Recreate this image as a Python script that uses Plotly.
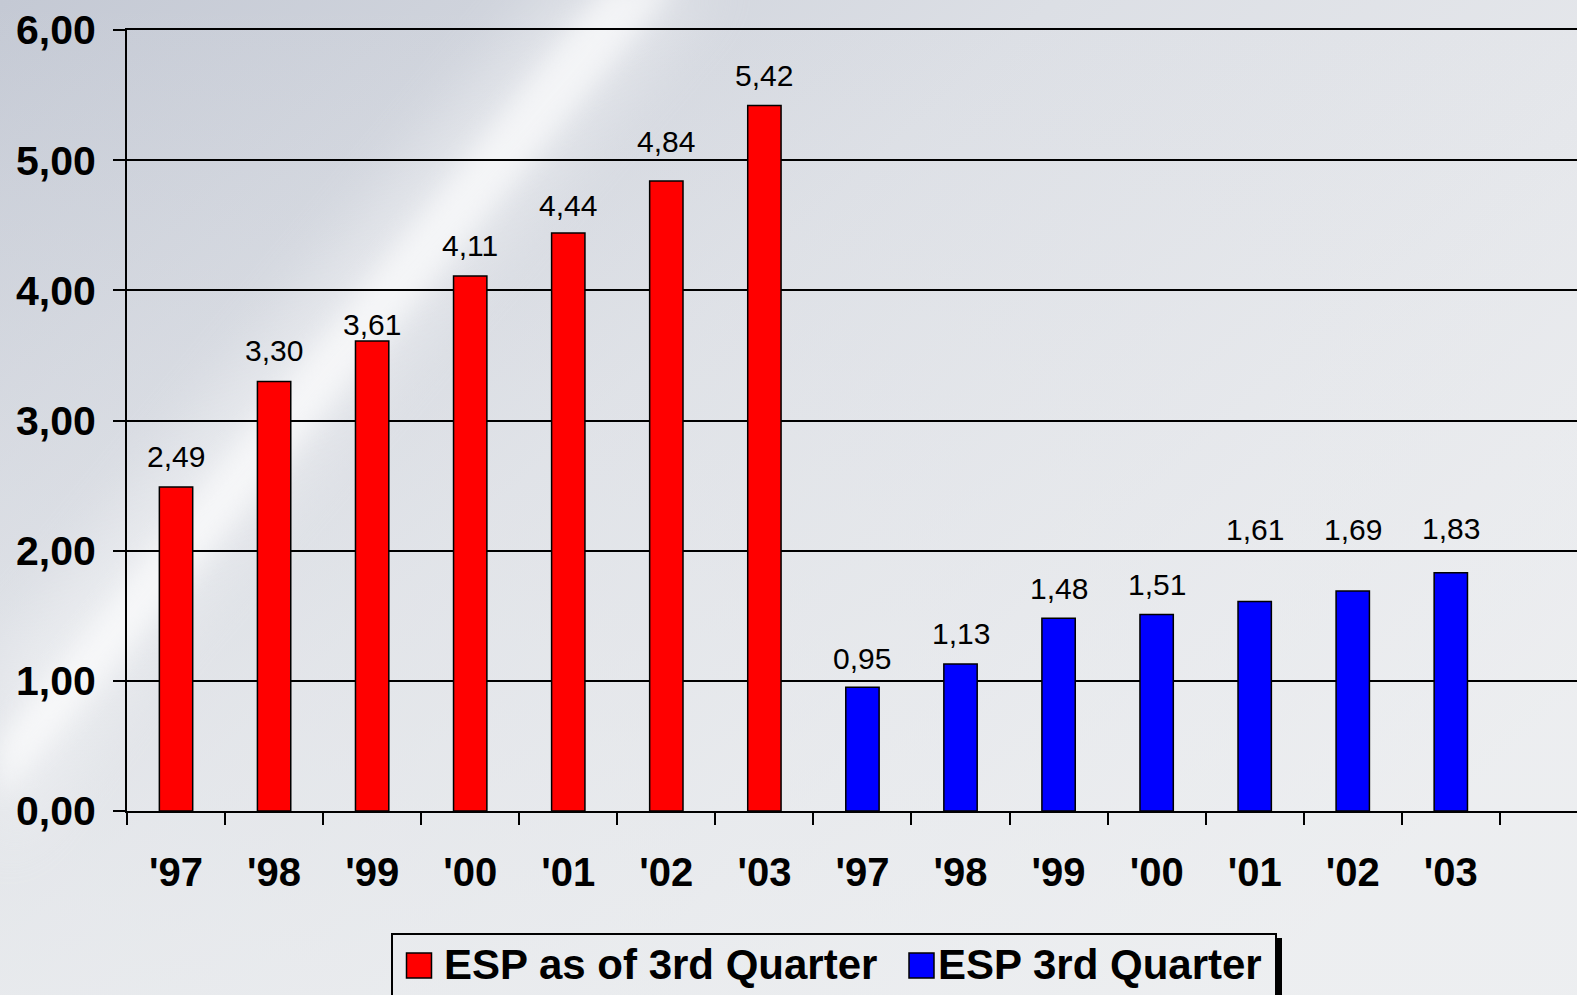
import plotly.graph_objects as go
from urllib.parse import quote

# ---- data ----
years = ["'97", "'98", "'99", "'00", "'01", "'02", "'03"]
esp_as_of_q3 = [2.49, 3.30, 3.61, 4.11, 4.44, 4.84, 5.42]
esp_q3 = [0.95, 1.13, 1.48, 1.51, 1.61, 1.69, 1.83]
series_names = ["ESP as of 3rd Quarter", "ESP 3rd Quarter"]
y_ticks = [0, 1, 2, 3, 4, 5, 6]

# label gap above bar (pixels, styling)
label_gap = [30, 31, 17, 31, 28, 39, 30, 29, 30, 30, 30, 72, 62, 44]

RED = "#ff0000"
BLUE = "#0000ff"
COLORS = [RED, BLUE]
FONT = "Arial, Liberation Sans, sans-serif"

n1 = len(years)
x_red = list(range(n1))
x_blue = list(range(n1, 2 * n1))
all_x = x_red + x_blue
all_v = esp_as_of_q3 + esp_q3

L, T, B = 127, 30, 184
W, H = 1577, 995
pw, ph = W - L, H - T - B
CAT_PX = 98.06


def px_x(p):
    return (p - L) / pw


def px_y(p):
    return (H - B - p) / ph


fig = go.Figure()
fig.add_trace(go.Bar(x=x_red, y=esp_as_of_q3, marker=dict(color=RED, line=dict(color="black", width=1.5)),
                     width=0.34, showlegend=False, name=series_names[0]))
fig.add_trace(go.Bar(x=x_blue, y=esp_q3, marker=dict(color=BLUE, line=dict(color="black", width=1.5)),
                     width=0.34, showlegend=False, name=series_names[1]))
# legend entries
legend_widths = [449, None]
for nm, c, lw in zip(series_names, COLORS, legend_widths):
    fig.add_trace(go.Scatter(x=[None], y=[None], mode="markers", name=nm, legendwidth=lw,
                             marker=dict(symbol="square", size=12, color=c, line=dict(width=0))))

for xi, v, g in zip(all_x, all_v, label_gap):
    fig.add_annotation(x=xi, y=v, text=f"{v:.2f}".replace(".", ","), showarrow=False,
                       yanchor="middle", yshift=g, font=dict(family=FONT, size=30, color="black"))

svg = (
    "<svg xmlns='http://www.w3.org/2000/svg' width='1577' height='995'>"
    "<defs><linearGradient id='g' x1='0' y1='0' x2='1' y2='0.7'>"
    "<stop offset='0' stop-color='#c4c9d4'/><stop offset='0.45' stop-color='#dcdfe5'/>"
    "<stop offset='1' stop-color='#eeeff1'/></linearGradient>"
    "<linearGradient id='h' x1='0' y1='0' x2='0' y2='1'>"
    "<stop offset='0' stop-color='#e6e8ec' stop-opacity='0'/><stop offset='1' stop-color='#eceef0' stop-opacity='0.7'/></linearGradient>"
    "<filter id='b' x='-50%' y='-50%' width='200%' height='200%'><feGaussianBlur stdDeviation='12'/></filter>"
    "<filter id='b2' x='-50%' y='-50%' width='200%' height='200%'><feGaussianBlur stdDeviation='30'/></filter></defs>"
    "<rect width='1577' height='995' fill='url(#g)'/>"
    "<rect width='1577' height='995' fill='url(#h)'/>"
    "<polygon points='560,-20 720,-20 160,640 0,860 0,660' fill='white' opacity='0.35' filter='url(#b2)'/>"
    "<polygon points='610,-20 680,-20 120,660 0,800 0,740' fill='white' opacity='0.6' filter='url(#b)'/>"
    "</svg>"
)
img_src = "data:image/svg+xml;charset=utf-8," + quote(svg)

fig.add_layout_image(dict(source=img_src, xref="paper", yref="paper", x=px_x(0), y=px_y(0),
                          sizex=W / pw, sizey=H / ph, sizing="stretch", layer="below",
                          xanchor="left", yanchor="top"))

# legend frame, shadow and swatches (decoration)
fig.add_shape(type="rect", xref="paper", yref="paper", x0=px_x(1276), x1=px_x(1282),
              y0=px_y(1005), y1=px_y(938), fillcolor="black", line=dict(width=0))
fig.add_shape(type="rect", xref="paper", yref="paper", x0=px_x(392), x1=px_x(1276),
              y0=px_y(1005), y1=px_y(934), fillcolor="rgba(0,0,0,0)", line=dict(color="black", width=2))
for cx, c in zip([419, 921.5], COLORS):
    fig.add_shape(type="rect", xref="paper", yref="paper", x0=px_x(cx - 12.5), x1=px_x(cx + 12.5),
                  y0=px_y(978), y1=px_y(953), fillcolor=c, line=dict(color="black", width=1.5))

fig.update_layout(
    width=W, height=H,
    margin=dict(l=L, r=0, t=T, b=B, autoexpand=False),
    paper_bgcolor="#e4e6ea", plot_bgcolor="rgba(0,0,0,0)",
    separators=", ",
    font=dict(family=FONT, color="black"),
    legend=dict(orientation="h", x=px_x(404), y=px_y(929), xanchor="left", yanchor="top",
                bgcolor="rgba(0,0,0,0)", borderwidth=0,
                font=dict(family=FONT, size=42, color="black", weight="bold"),
                itemsizing="trace", tracegroupgap=0),
    xaxis=dict(range=[-0.5, (W - L) / CAT_PX - 0.5], tickvals=all_x, ticktext=years + years,
               ticks="", ticklabelstandoff=25, showgrid=False, zeroline=False,
               showline=True, linecolor="black", linewidth=2, mirror=True,
               tickfont=dict(family=FONT, size=40, color="black", weight="bold"),
               minor=dict(tick0=-0.5, dtick=1, ticks="outside", ticklen=12, tickcolor="black",
                          tickwidth=2, showgrid=False)),
    yaxis=dict(range=[0, 6], tickvals=y_ticks, tickformat=".2f", ticks="outside", ticklen=12,
               tickcolor="black", tickwidth=2, ticklabelstandoff=9,
               showgrid=True, gridcolor="black", gridwidth=2, zeroline=False,
               showline=True, linecolor="black", linewidth=2,
               tickfont=dict(family=FONT, size=41, color="black", weight="bold")),
)

post = """
document.body.style.margin='0';
document.documentElement.style.margin='0';
"""

fig.write_html("out.html", post_script=post, config={"displayModeBar": False})
